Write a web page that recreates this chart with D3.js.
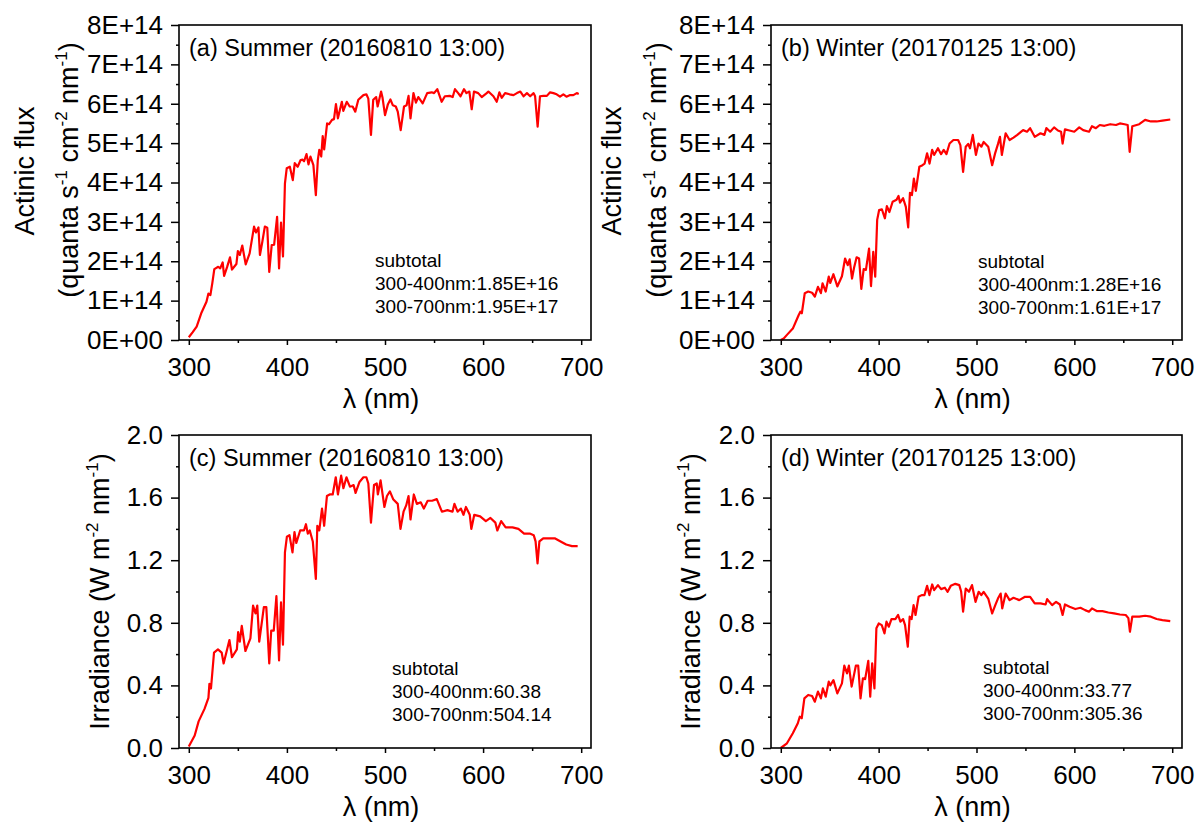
<!DOCTYPE html>
<html lang="en">
<head>
<meta charset="UTF-8">
<title>Actinic flux and irradiance spectra</title>
<script src="https://d3js.org/d3.v7.min.js"></script>
<style>
  body { margin: 0; background: #fff; }
  svg { font-family: "Liberation Sans", Arial, sans-serif; }
  .frame { fill: none; stroke: #000; stroke-width: 1.6; }
  .spec { fill: none; stroke: #ff0000; stroke-width: 2.2; stroke-linejoin: round; }
  .tick line { stroke: #000; stroke-width: 1.5; }
  .tick text { font-family: "Liberation Sans", Arial, sans-serif; font-size: 26px; fill: #000; }
  .ttl { font-size: 27px; fill: #000; }
  .lab { font-size: 23.5px; fill: #000; }
  .sub { font-size: 19px; fill: #000; }
</style>
</head>
<body>
<script>
// ticks
var wlTicks = [300, 400, 500, 600, 700];
var wlMinor = [350, 450, 550, 650];
var fluxTicks = [0, 1, 2, 3, 4, 5, 6, 7, 8];          // x 1E+14
var fluxMinor = [0.5, 1.5, 2.5, 3.5, 4.5, 5.5, 6.5, 7.5];
var irrTicks = [0, 0.4, 0.8, 1.2, 1.6, 2.0];
var irrMinor = [0.2, 0.6, 1.0, 1.4, 1.8];

// (a) summer actinic flux, [nm, 1E+14 quanta s-1 cm-2 nm-1]
var summerFlux = [[300,0.07],[304,0.2],[308,0.34],[313,0.70],[318,0.97],[320,1.18],[322,1.14],[324,1.45],[326,1.80],[330,1.86],[332,1.82],[334.5,1.97],[336,1.63],[339,1.85],[342,2.10],[344,1.79],[348.5,1.93],[350,2.26],[352,2.16],[354.5,2.40],[358,1.92],[362,2.20],[366.5,2.88],[368.5,2.73],[371,2.86],[372.5,2.16],[375,2.5],[377.5,2.88],[380,2.85],[382,1.73],[384.5,2.41],[387,2.42],[390,3.13],[392,1.82],[394,2.98],[396,2.12],[398,3.98],[399.8,4.36],[403,4.40],[406,4.06],[408,4.49],[411,4.40],[414,4.57],[416,4.58],[417.5,4.54],[420,4.72],[422,4.46],[424,4.66],[427,4.44],[429.5,3.68],[431.5,4.57],[433,4.83],[435,4.66],[436.5,5.18],[438,4.84],[441,5.50],[443,5.48],[446,5.59],[448,5.61],[450,5.99],[452,5.63],[454,5.84],[456,6.05],[457.5,5.82],[461,6.05],[464,5.93],[467,5.93],[469.7,5.80],[472.8,6.10],[478,6.22],[481,6.24],[483,6.13],[485.7,5.21],[488,6.10],[491,6.17],[492.5,5.93],[496,6.31],[497.5,6.15],[500,5.71],[503,5.99],[505.5,6.11],[508,5.96],[511,5.93],[513,5.80],[516,5.33],[519.4,5.93],[522,5.96],[524,6.20],[526,5.63],[529,6.27],[531.5,6.03],[534,6.17],[538.4,6.01],[543,6.27],[547.6,6.29],[550,6.27],[553.3,6.37],[557.8,6.05],[561,6.19],[566,6.20],[569,6.17],[571.3,6.37],[574.6,6.27],[577,6.19],[580.5,6.37],[583,6.27],[586,6.31],[588.4,5.86],[590.7,6.31],[595,6.27],[598.6,6.17],[603.7,6.27],[605.4,6.31],[610.5,6.19],[613.9,6.05],[616.6,6.29],[619,6.15],[622.4,6.27],[627,6.24],[631,6.22],[634.5,6.27],[638,6.31],[641.3,6.19],[644.7,6.27],[648,6.19],[651.5,6.27],[653,6.19],[655.6,5.42],[658,6.19],[661.5,6.20],[665,6.20],[668.3,6.29],[671.7,6.27],[675,6.24],[678.4,6.18],[681.8,6.24],[685,6.18],[688.7,6.22],[692,6.22],[695.5,6.27],[697.5,6.25]];

// (b) winter actinic flux
var winterFlux = [[300,0.0],[303,0.04],[306.3,0.13],[312.3,0.29],[318.2,0.63],[320,0.72],[321.5,0.68],[324.5,1.19],[328,1.23],[332,1.20],[334.8,1.10],[338,1.35],[341,1.19],[342.7,1.44],[345.9,1.23],[349,1.61],[350.6,1.45],[353.8,1.67],[357.8,1.36],[362.5,1.62],[365.7,2.07],[368.4,1.90],[370.4,2.05],[372.8,1.56],[375,1.85],[377.5,2.10],[380,2.07],[382.3,1.30],[384.7,1.80],[387,1.78],[390.2,2.32],[392.2,1.37],[394.5,2.24],[396.5,1.61],[398.5,3.05],[400.5,3.30],[403.3,3.32],[406.4,3.09],[408.4,3.40],[411,3.25],[414.3,3.51],[418.3,3.56],[420.3,3.66],[421.8,3.49],[425,3.60],[427.8,3.38],[430.2,2.86],[432,3.74],[434,3.68],[436,4.10],[438,3.79],[441.6,4.40],[444.8,4.44],[447,4.48],[449.5,4.74],[452,4.48],[454.7,4.83],[456.7,4.70],[460.6,4.87],[463.8,4.72],[466.5,4.83],[469.3,4.72],[472.5,4.99],[476.4,5.08],[481.2,5.08],[483.5,4.95],[486.3,4.27],[489,4.91],[491.5,4.98],[493.4,4.87],[496.2,5.21],[499.4,4.70],[502,4.99],[505,4.91],[507.3,5.03],[512,4.91],[516,4.44],[519,4.74],[522,4.98],[524,5.16],[525.9,4.70],[529.8,5.25],[533.8,5.08],[537.8,5.14],[541.7,5.21],[547.6,5.33],[551.6,5.29],[554.8,5.38],[559.5,5.16],[565.4,5.25],[569.4,5.21],[571.4,5.38],[575.3,5.29],[579.3,5.40],[583.2,5.32],[586.4,5.29],[588,4.99],[590.4,5.35],[595,5.32],[599.9,5.29],[605,5.40],[609,5.33],[615,5.29],[618,5.43],[622,5.38],[626,5.46],[630.7,5.44],[636.7,5.48],[642.6,5.46],[646.5,5.50],[651.3,5.48],[654.5,5.46],[656.5,4.78],[659.2,5.43],[666.3,5.48],[672.3,5.59],[678.2,5.55],[684.1,5.55],[690,5.57],[698,5.60]];

// (c) summer irradiance, [nm, W m-2 nm-1]
var summerIrr = [[300,0.01],[306,0.08],[310,0.17],[316,0.25],[320,0.32],[321,0.41],[322.6,0.38],[325.7,0.61],[329.7,0.63],[333.5,0.61],[335.5,0.54],[341.4,0.69],[344,0.58],[349,0.63],[350.3,0.74],[352,0.68],[354,0.78],[357.7,0.62],[362.8,0.70],[365.5,0.91],[368,0.86],[369.8,0.91],[371.8,0.68],[376.5,0.90],[379,0.90],[382,0.54],[384,0.75],[386.6,0.75],[389.3,0.97],[392,0.56],[394,0.93],[396,0.66],[398,1.25],[400,1.35],[402.6,1.36],[405.7,1.25],[407.7,1.38],[409.6,1.31],[413.5,1.39],[417.4,1.39],[419.4,1.43],[421.3,1.37],[423.3,1.39],[426.4,1.32],[429.5,1.08],[431,1.42],[433,1.39],[435.8,1.53],[438,1.42],[440.8,1.61],[443.6,1.62],[446.7,1.62],[449.8,1.73],[452,1.62],[455.3,1.74],[457.6,1.66],[460.7,1.73],[464.3,1.67],[468,1.68],[470,1.63],[474,1.70],[478,1.73],[481,1.73],[483,1.69],[485.7,1.44],[488.8,1.68],[491.6,1.69],[492.7,1.62],[495.5,1.71],[499.4,1.54],[502,1.61],[505,1.64],[508.3,1.59],[513,1.56],[515.8,1.40],[518.9,1.51],[521.6,1.55],[524,1.61],[526,1.46],[529.4,1.62],[532.5,1.56],[536.4,1.57],[539.6,1.53],[543.5,1.58],[548,1.58],[552.8,1.59],[558,1.51],[563.7,1.52],[568.8,1.51],[570.8,1.56],[574,1.51],[577.4,1.53],[580,1.49],[582.5,1.54],[586.4,1.49],[588,1.40],[591,1.49],[597,1.48],[602.8,1.45],[607.5,1.47],[612.5,1.44],[614.5,1.39],[618.4,1.45],[623,1.41],[630,1.41],[636,1.40],[641.8,1.37],[647.6,1.37],[651.6,1.36],[653.5,1.32],[655.5,1.18],[657.4,1.32],[661.3,1.34],[667.2,1.34],[673,1.34],[679,1.32],[684.7,1.30],[690.6,1.29],[696.4,1.29]];

// (d) winter irradiance
var winterIrr = [[300,0.0],[306.3,0.03],[312.3,0.094],[317.4,0.158],[319.4,0.20],[321.4,0.19],[324.1,0.317],[328,0.339],[332,0.332],[334.8,0.296],[338,0.36],[341,0.317],[343,0.381],[345.9,0.328],[349,0.424],[350.6,0.40],[353.8,0.434],[357.8,0.349],[362.5,0.413],[364.9,0.526],[367.7,0.477],[369.6,0.526],[372.4,0.392],[376.7,0.526],[379.1,0.526],[381.5,0.317],[383.9,0.445],[386.2,0.44],[389.4,0.557],[391.4,0.328],[393.4,0.541],[395.7,0.381],[397.7,0.765],[400.1,0.796],[403.2,0.785],[406,0.732],[408,0.807],[410.4,0.775],[413.1,0.824],[417.1,0.824],[419.9,0.85],[422.2,0.807],[425,0.824],[427,0.785],[429.8,0.647],[431.7,0.839],[433.7,0.824],[435.7,0.913],[437.7,0.85],[440.8,0.966],[444,0.977],[446.8,0.977],[449.5,1.036],[451.9,0.977],[454.7,1.045],[456.7,1.009],[460.6,1.041],[463.8,1.015],[467.7,1.024],[470.5,0.998],[473.7,1.036],[478.4,1.049],[482.4,1.041],[484.3,1.0],[486.3,0.871],[489,1.019],[492.3,0.998],[495.4,1.041],[499,0.934],[502.2,0.998],[504.9,0.977],[507.3,0.998],[512,0.955],[516,0.86],[519.2,0.913],[521.9,0.955],[524.7,0.987],[526.3,0.892],[529.8,0.987],[533.8,0.945],[537.8,0.96],[543.7,0.945],[549.6,0.966],[554.8,0.966],[559.5,0.924],[565.4,0.924],[570.6,0.917],[572.2,0.951],[577.3,0.913],[581.3,0.934],[585.2,0.917],[588,0.85],[590.4,0.917],[595.1,0.902],[601,0.888],[606.2,0.896],[611,0.881],[614.9,0.871],[618,0.892],[622.8,0.875],[628.7,0.875],[634.7,0.866],[640.6,0.86],[646.5,0.853],[652.5,0.85],[655.2,0.83],[656.8,0.743],[659.2,0.839],[666.3,0.839],[672.3,0.845],[678.2,0.839],[684.1,0.824],[690,0.817],[698,0.811]];

var panelLabels = ["(a) Summer (20160810 13:00)", "(b) Winter (20170125 13:00)",
                   "(c) Summer (20160810 13:00)", "(d) Winter (20170125 13:00)"];
var subtotals = [["subtotal", "300-400nm:1.85E+16", "300-700nm:1.95E+17"],
                 ["subtotal", "300-400nm:1.28E+16", "300-700nm:1.61E+17"],
                 ["subtotal", "300-400nm:60.38", "300-700nm:504.14"],
                 ["subtotal", "300-400nm:33.77", "300-700nm:305.36"]];

var svg = d3.select("body").append("svg")
    .attr("width", 1195).attr("height", 823);

var panels = [
  {left:179, right:591, top:25, bottom:340, data:summerFlux, kind:"flux", t1:34, t2:78, subX:375, subY:267},
  {left:771, right:1182, top:25, bottom:340, data:winterFlux, kind:"flux", t1:621, t2:666, subX:978, subY:268},
  {left:179, right:591, top:435, bottom:748, data:summerIrr, kind:"irr", t1:109, subX:392, subY:675},
  {left:771, right:1182, top:435, bottom:748, data:winterIrr, kind:"irr", t1:700, subX:983, subY:674}
];

function sup(txt, parts) {
  // parts: alternating normal / superscript strings
  parts.forEach(function(p, i) {
    if (i % 2 == 0) txt.append("tspan").attr("dy", i == 0 ? 0 : 11).text(p);
    else txt.append("tspan").attr("dy", -11).attr("font-size", 17).text(p);
  });
}

panels.forEach(function(p, i) {
  var isFlux = p.kind == "flux";
  var x = d3.scaleLinear().domain([290, 710]).range([p.left, p.right]);
  var y = d3.scaleLinear().domain(isFlux ? [0, 8] : [0, 2]).range([p.bottom, p.top]);
  var g = svg.append("g");

  // minor ticks
  g.append("g").attr("transform", "translate(0," + p.bottom + ")")
    .call(d3.axisBottom(x).tickValues(wlMinor).tickSize(3).tickFormat(""))
    .call(function(a) { a.select(".domain").remove(); });
  g.append("g").attr("transform", "translate(" + p.left + ",0)")
    .call(d3.axisLeft(y).tickValues(isFlux ? fluxMinor : irrMinor).tickSize(3).tickFormat(""))
    .call(function(a) { a.select(".domain").remove(); });

  // major ticks + labels
  var xa = g.append("g").attr("transform", "translate(0," + p.bottom + ")")
    .call(d3.axisBottom(x).tickValues(wlTicks).tickSize(5));
  xa.select(".domain").remove();
  xa.selectAll("text").attr("y", 36).attr("dy", 0);

  var fmt = isFlux ? function(d) { return d == 0 ? "0E+00" : d + "E+14"; } : d3.format(".1f");
  var ya = g.append("g").attr("transform", "translate(" + p.left + ",0)")
    .call(d3.axisLeft(y).tickValues(isFlux ? fluxTicks : irrTicks).tickSize(8).tickPadding(8).tickFormat(fmt));
  ya.select(".domain").remove();

  // spectrum
  var line = d3.line().x(function(d) { return x(d[0]); }).y(function(d) { return y(d[1]); });
  g.append("path").datum(p.data).attr("class", "spec").attr("d", line);

  g.append("rect").attr("class", "frame")
    .attr("x", p.left).attr("y", p.top)
    .attr("width", p.right - p.left).attr("height", p.bottom - p.top);

  // texts
  g.append("text").attr("class", "lab")
    .attr("x", p.left + 10).attr("y", p.top + 31).text(panelLabels[i]);

  subtotals[i].forEach(function(s, k) {
    g.append("text").attr("class", "sub")
      .attr("x", p.subX).attr("y", p.subY + k * 23).text(s);
  });

  g.append("text").attr("class", "ttl").attr("text-anchor", "middle")
    .attr("x", (p.left + p.right) / 2 - 4).attr("y", p.bottom + 68).text("λ (nm)");

  if (isFlux) {
    g.append("text").attr("class", "ttl").attr("text-anchor", "middle")
      .attr("transform", "translate(" + p.t1 + ",171) rotate(-90)").text("Actinic flux");
    var t2 = g.append("text").attr("class", "ttl").attr("text-anchor", "middle")
      .attr("transform", "translate(" + p.t2 + ",170) rotate(-90)");
    sup(t2, ["(quanta s", "-1", " cm", "-2", " nm", "-1", ")"]);
  } else {
    var t = g.append("text").attr("class", "ttl").attr("text-anchor", "middle")
      .attr("transform", "translate(" + p.t1 + "," + ((p.top + p.bottom) / 2) + ") rotate(-90)");
    sup(t, ["Irradiance (W m", "-2", " nm", "-1", ")"]);
  }
});
</script>
</body>
</html>
